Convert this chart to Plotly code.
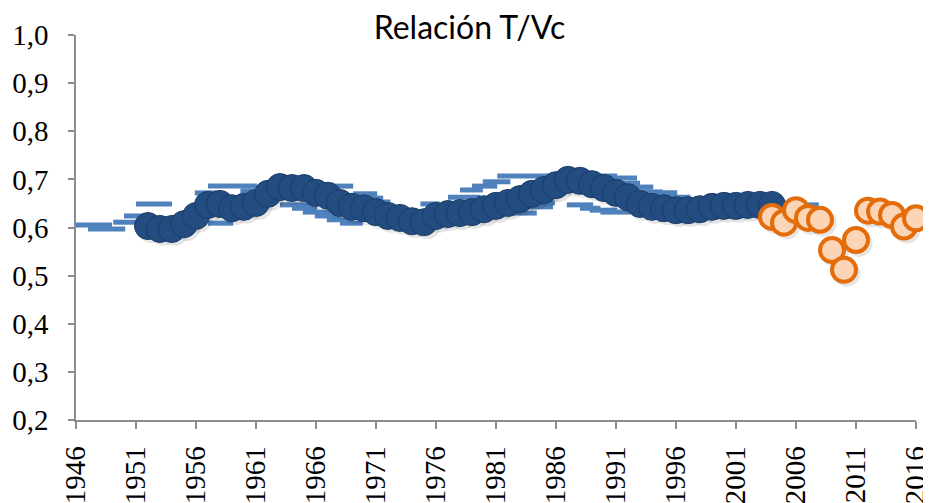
import plotly.graph_objects as go

# Blue series (historical)
years_blue = list(range(1952, 2005))
vals_blue = [0.603, 0.597, 0.597, 0.607, 0.624, 0.647, 0.649, 0.640, 0.643, 0.651,
             0.670, 0.684, 0.682, 0.682, 0.672, 0.666, 0.651, 0.643, 0.640, 0.632,
             0.624, 0.620, 0.613, 0.611, 0.624, 0.628, 0.630, 0.632, 0.638, 0.645,
             0.651, 0.659, 0.670, 0.678, 0.688, 0.699, 0.697, 0.690, 0.682, 0.672,
             0.663, 0.649, 0.643, 0.640, 0.636, 0.636, 0.638, 0.643, 0.645, 0.645,
             0.647, 0.647, 0.647]

# Orange series (recent)
years_orange = list(range(2004, 2017))
vals_orange = [0.622, 0.610, 0.636, 0.620, 0.616, 0.553, 0.512, 0.574, 0.635,
               0.633, 0.626, 0.602, 0.619]

# Horizontal bar segments (start year, end year, value)
seg_start = [1945.9, 1947.0, 1949.1, 1950.0, 1951.0, 1955.9, 1957.0, 1957.0, 1959.7,
             1963.0, 1964.0, 1964.9, 1965.9, 1966.9, 1968.0, 1967.4, 1969.1, 1969.7,
             1970.5, 1974.7, 1977.0, 1978.0, 1979.0, 1979.9, 1981.1, 1989.7, 1991.1,
             1991.9, 1993.0, 1993.25, 1994.4, 1983.25, 1983.8, 1982.2, 1986.9, 1988.0,
             1988.8, 1989.7, 2006.8]
seg_end = [1949.0, 1950.1, 1951.1, 1951.5, 1954.0, 1957.8, 1961.1, 1959.1, 1961.9,
           1965.5, 1966.1, 1967.2, 1968.0, 1969.1, 1969.9, 1969.1, 1971.1, 1971.6,
           1972.2, 1976.3, 1979.7, 1979.9, 1981.1, 1982.2, 1991.1, 1992.75, 1993.0,
           1994.1, 1994.9, 1996.1, 1997.2, 1985.9, 1985.75, 1984.4, 1989.1, 1989.7,
           1991.1, 1992.2, 2007.9]
seg_val = [0.605, 0.597, 0.611, 0.624, 0.649, 0.672, 0.686, 0.609, 0.676,
           0.647, 0.640, 0.632, 0.624, 0.616, 0.609, 0.686, 0.670, 0.661,
           0.653, 0.649, 0.663, 0.678, 0.686, 0.695, 0.707, 0.703, 0.692,
           0.684, 0.674, 0.672, 0.663, 0.651, 0.643, 0.630, 0.647, 0.640,
           0.636, 0.632, 0.647]

x_ticks = list(range(1946, 2017, 5))
y_ticks = [0.2, 0.3, 0.4, 0.5, 0.6, 0.7, 0.8, 0.9, 1.0]

seg_x, seg_y = [], []
for a, b, v in zip(seg_start, seg_end, seg_val):
    seg_x += [a, b, None]
    seg_y += [v, v, None]

fig = go.Figure()
fig.add_trace(go.Scatter(x=seg_x, y=seg_y, mode="lines",
                         line=dict(color="#4F81BD", width=5), hoverinfo="skip",
                         showlegend=False))
# soft shadows
fig.add_trace(go.Scatter(x=[x + 0.25 for x in years_blue], y=[v - 0.007 for v in vals_blue],
                         mode="markers", marker=dict(size=27, color="rgba(0,0,0,0.10)",
                                                     line=dict(width=0)),
                         hoverinfo="skip", showlegend=False, cliponaxis=False))
fig.add_trace(go.Scatter(x=[x + 0.25 for x in years_orange], y=[v - 0.007 for v in vals_orange],
                         mode="markers", marker=dict(size=27, color="rgba(0,0,0,0.10)",
                                                     line=dict(width=0)),
                         hoverinfo="skip", showlegend=False, cliponaxis=False))
fig.add_trace(go.Scatter(x=years_blue, y=vals_blue, mode="markers",
                         marker=dict(size=27, color="#234C80",
                                     line=dict(color="#1B3D68", width=1)),
                         showlegend=False, cliponaxis=False))
fig.add_trace(go.Scatter(x=years_orange, y=vals_orange, mode="markers",
                         marker=dict(size=24, color="#FBD5B5",
                                     line=dict(color="#E46C0A", width=4)),
                         showlegend=False, cliponaxis=False))

axis_font = dict(family="Liberation Serif", size=29, color="#000000")
fig.update_layout(
    width=923, height=495,
    margin=dict(l=68, r=15, t=27, b=83),
    paper_bgcolor="white", plot_bgcolor="white",
    separators=",.",
    title=dict(text="Relación T/Vc", x=0.5, xanchor="center", y=0.96, yanchor="middle",
               font=dict(family="Lato", size=32, color="#000000")),
    xaxis=dict(range=[1946, 2016], tickmode="array", tickvals=x_ticks,
               ticktext=[str(t) for t in x_ticks], tickangle=-90, automargin=False,
               ticklabeloverflow="allow",
               showgrid=False, zeroline=False, showline=True,
               linecolor="#8C8C8C", linewidth=1.5, ticks="outside", ticklen=7,
               tickcolor="#8C8C8C", tickwidth=1.5, tickfont=axis_font,
               ticklabelstandoff=6),
    yaxis=dict(range=[0.2, 1.0], tickmode="array", tickvals=y_ticks, tickformat=".1f",
               automargin=False, ticklabeloverflow="allow",
               showgrid=False, zeroline=False, showline=True,
               linecolor="#8C8C8C", linewidth=1.5, ticks="outside", ticklen=6,
               tickcolor="#8C8C8C", tickwidth=1.5, tickfont=axis_font,
               ticklabelstandoff=14),
)
fig.write_html("out.html")
